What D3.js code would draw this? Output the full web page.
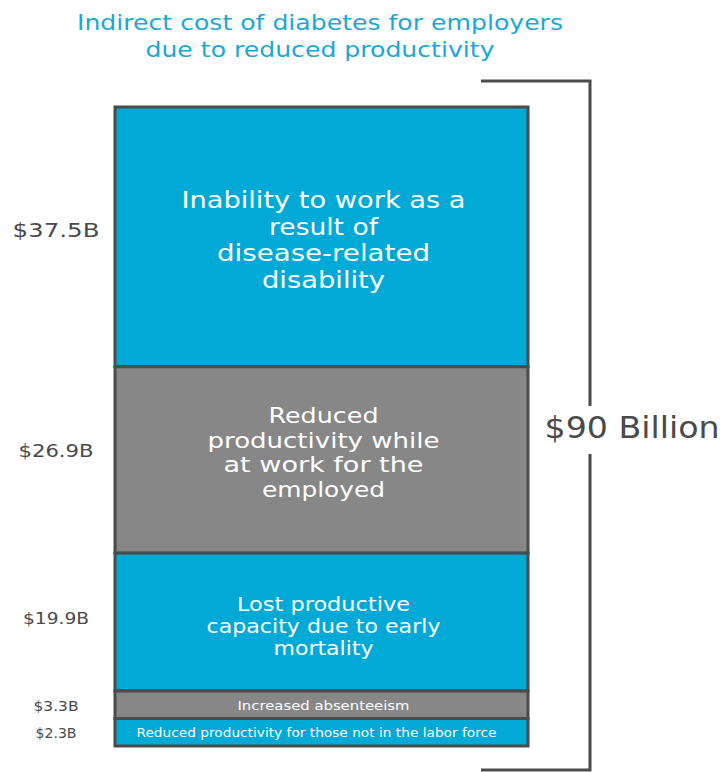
<!DOCTYPE html>
<html>
<head>
<meta charset="utf-8">
<script src="https://cdn.jsdelivr.net/npm/d3@7"></script>
<style>
  html, body { margin: 0; padding: 0; background: #ffffff; }
  svg { display: block; font-family: "DejaVu Sans", "Open Sans", sans-serif; }
</style>
</head>
<body>
<svg id="chart" width="722" height="772"></svg>
<script>
// ---- data ----
const titleLines = ["Indirect cost of diabetes for employers", "due to reduced productivity"];
const categories = [
  "Inability to work as a result of disease-related disability",
  "Reduced productivity while at work for the employed",
  "Lost productive capacity due to early mortality",
  "Increased absenteeism",
  "Reduced productivity for those not in the labor force"
];
const categoryLines = [
  ["Inability to work as a", "result of", "disease-related", "disability"],
  ["Reduced", "productivity while", "at work for the", "employed"],
  ["Lost productive", "capacity due to early", "mortality"],
  ["Increased absenteeism"],
  ["Reduced productivity for those not in the labor force"]
];
const values = [37.5, 26.9, 19.9, 3.3, 2.3];
const valueLabels = ["$37.5B", "$26.9B", "$19.9B", "$3.3B", "$2.3B"];
const totalLabel = "$90 Billion";

// ---- styles ----
const cyan = "#01a9d6", gray = "#878787", stroke = "#4b4b4b", textDark = "#4a4a4a";
const fills = [cyan, gray, cyan, gray, cyan];
const innerFont = [23, 20.5, 19, 13, 12.5];
const innerLH = [26.5, 24.5, 22, 0, 0];
const innerShift = [3, -7, 4, 1, 0];
const innerWidths = [[284, 109, 213, 123], [110, 232, 200, 123], [173, 234, 100], [172], [360]];
const labelFont = [20, 17.5, 16.5, 14, 14];
const labelShift = [-7, -9, -4, 1, 1];
const labelWidths = [87, 75, 66, 45, 41];
const titleWidths = [486, 349];

const svg = d3.select("#chart");
const bar = { x0: 115, x1: 528, top: 107, bottom: 746 };
const minH = 27.5;

// stretch a text to the reference width (the reference face is wider than the installed ones)
function fit(sel, target) {
  sel.attr("textLength", target).attr("lengthAdjust", "spacingAndGlyphs");
}

// scale with a minimum visible height for tiny segments
const small = values.filter(v => v < 5);
const bigSum = d3.sum(values.filter(v => v >= 5));
const k = (bar.bottom - bar.top - minH * small.length) / bigSum;
const hScale = d3.scaleLinear().domain([0, bigSum]).range([0, k * bigSum]);
const heights = values.map(v => Math.max(minH, hScale(v)));
let acc = bar.top;
const segs = values.map((v, i) => { const s = { y0: acc, y1: acc + heights[i], i, v }; acc += heights[i]; return s; });

const x = d3.scaleBand().domain(["total"]).range([bar.x0, bar.x1]).padding(0);

// title
svg.append("g").selectAll("text").data(titleLines).join("text")
  .attr("x", 320).attr("y", (d, i) => 22 + i * 27)
  .attr("text-anchor", "middle").attr("dominant-baseline", "central")
  .attr("fill", "#1aa8d5").attr("font-size", 21.5)
  .text(d => d)
  .each(function(d, i) { fit(d3.select(this), titleWidths[i]); });

// segments
const g = svg.append("g");
g.selectAll("rect").data(segs).join("rect")
  .attr("x", x("total")).attr("width", x.bandwidth())
  .attr("y", d => d.y0).attr("height", d => d.y1 - d.y0)
  .attr("fill", d => fills[d.i]).attr("stroke", stroke).attr("stroke-width", 3);

// inner labels
segs.forEach(s => {
  const lines = categoryLines[s.i];
  const cy = (s.y0 + s.y1) / 2 + innerShift[s.i];
  const lh = innerLH[s.i];
  g.append("g").selectAll("text").data(lines).join("text")
    .attr("text-anchor", "middle").attr("fill", "#ffffff")
    .attr("font-size", innerFont[s.i])
    .attr("x", x("total") + x.bandwidth() / 2 + (s.i === 4 ? -5 : 2))
    .attr("y", (d, j) => cy + (j - (lines.length - 1) / 2) * lh)
    .attr("dominant-baseline", "central")
    .text(d => d)
    .each(function(d, j) { fit(d3.select(this), innerWidths[s.i][j]); });
});

// value labels
svg.append("g").selectAll("text").data(segs).join("text")
  .attr("x", 56).attr("y", d => (d.y0 + d.y1) / 2 + labelShift[d.i])
  .attr("text-anchor", "middle").attr("dominant-baseline", "central")
  .attr("fill", textDark).attr("font-size", d => labelFont[d.i])
  .text(d => valueLabels[d.i])
  .each(function(d) { fit(d3.select(this), labelWidths[d.i]); });

// bracket
const br = svg.append("g").attr("stroke", stroke).attr("stroke-width", 3).attr("fill", "none");
br.append("path").attr("d", `M481,81H590V406`);
br.append("path").attr("d", `M590,454V770H481`);
svg.append("text").attr("x", 632).attr("y", 427)
  .attr("text-anchor", "middle").attr("dominant-baseline", "central")
  .attr("fill", textDark).attr("font-size", 30).text(totalLabel)
  .call(fit, 175);
</script>
</body>
</html>
